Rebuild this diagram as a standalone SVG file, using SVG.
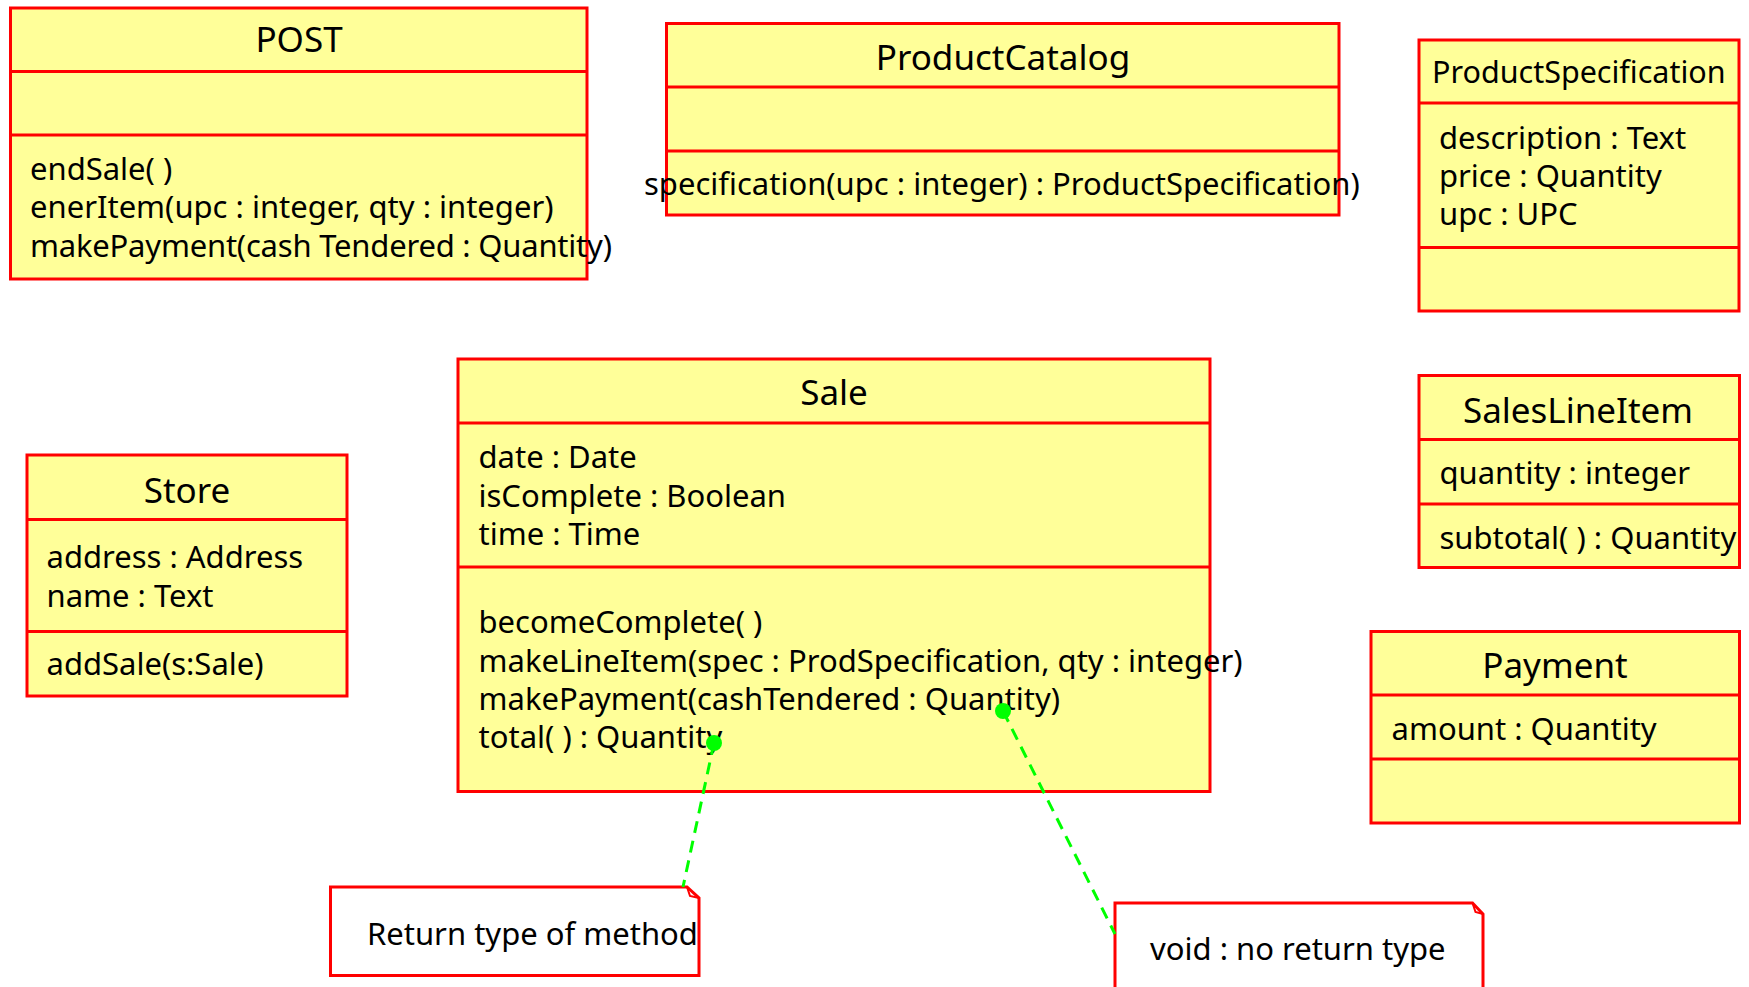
<svg xmlns="http://www.w3.org/2000/svg" width="1749" height="987" viewBox="0 0 1749 987">
<style>
.box{fill:#FFFF99;stroke:#FF0000;stroke-width:3}
.div{stroke:#FF0000;stroke-width:3;fill:none}
.note{fill:#FFFFFF;stroke:#FF0000;stroke-width:3}
.t{font-family:"Noto Sans","Open Sans",sans-serif;font-size:31px;fill:#000}
.h{font-family:"Noto Sans","Open Sans",sans-serif;font-size:35px;fill:#000;text-anchor:middle}
.link{stroke:#00FF00;stroke-width:3;stroke-dasharray:12 8;fill:none}
.dot{fill:#00FF00}
</style>
<rect width="1749" height="987" fill="#FFFFFF"/>

<g id="POST">
<rect class="box" x="10.5" y="8" width="576.5" height="271"/>
<line class="div" x1="10.5" y1="71.5" x2="587" y2="71.5"/>
<line class="div" x1="10.5" y1="135" x2="587" y2="135"/>
<text class="h" x="299" y="52">POST</text>
<text class="t" x="30" y="180">endSale( )</text>
<text class="t" x="30" y="218">enerItem(upc : integer, qty : integer)</text>
<text class="t" x="30" y="257" textLength="582" lengthAdjust="spacing">makePayment(cash Tendered : Quantity)</text>
</g>

<g id="ProductCatalog">
<rect class="box" x="666.5" y="23.5" width="672.5" height="191.5"/>
<line class="div" x1="666.5" y1="87" x2="1339" y2="87"/>
<line class="div" x1="666.5" y1="151" x2="1339" y2="151"/>
<text class="h" x="1003" y="70">ProductCatalog</text>
<text class="t" x="644" y="195">specification(upc : integer) : ProductSpecification)</text>
</g>

<g id="ProductSpecification">
<rect class="box" x="1419" y="40" width="320" height="271"/>
<line class="div" x1="1419" y1="103" x2="1739" y2="103"/>
<line class="div" x1="1419" y1="247.5" x2="1739" y2="247.5"/>
<text class="t" x="1432" y="83" style="font-size:30.5px">ProductSpecification</text>
<text class="t" x="1439" y="149">description : Text</text>
<text class="t" x="1439" y="187">price : Quantity</text>
<text class="t" x="1439" y="225">upc : UPC</text>
</g>

<g id="Store">
<rect class="box" x="27" y="455" width="320" height="241"/>
<line class="div" x1="27" y1="519.5" x2="347" y2="519.5"/>
<line class="div" x1="27" y1="631.5" x2="347" y2="631.5"/>
<text class="h" x="187" y="502.5">Store</text>
<text class="t" x="46.5" y="568">address : Address</text>
<text class="t" x="46.5" y="606.5">name : Text</text>
<text class="t" x="46.5" y="675">addSale(s:Sale)</text>
</g>

<g id="Sale">
<rect class="box" x="458" y="359" width="752" height="432.5"/>
<line class="div" x1="458" y1="423" x2="1210" y2="423"/>
<line class="div" x1="458" y1="567" x2="1210" y2="567"/>
<text class="h" x="834" y="405">Sale</text>
<text class="t" x="478.5" y="468">date : Date</text>
<text class="t" x="478.5" y="507">isComplete : Boolean</text>
<text class="t" x="478.5" y="545">time : Time</text>
<text class="t" x="478.5" y="633">becomeComplete( )</text>
<text class="t" x="478.5" y="671.5">makeLineItem(spec : ProdSpecification, qty : integer)</text>
<text class="t" x="478.5" y="710">makePayment(cashTendered : Quantity)</text>
<text class="t" x="478.5" y="748">total( ) : Quantity</text>
</g>

<g id="SalesLineItem">
<rect class="box" x="1419" y="375.5" width="320.5" height="192"/>
<line class="div" x1="1419" y1="439.5" x2="1739.5" y2="439.5"/>
<line class="div" x1="1419" y1="504" x2="1739.5" y2="504"/>
<text class="h" x="1578" y="422.5">SalesLineItem</text>
<text class="t" x="1439.5" y="483.5">quantity : integer</text>
<text class="t" x="1439.5" y="548.5">subtotal( ) : Quantity</text>
</g>

<g id="Payment">
<rect class="box" x="1371" y="631.5" width="368.5" height="191.5"/>
<line class="div" x1="1371" y1="695" x2="1739.5" y2="695"/>
<line class="div" x1="1371" y1="759" x2="1739.5" y2="759"/>
<text class="h" x="1555" y="677.5">Payment</text>
<text class="t" x="1391.5" y="740">amount : Quantity</text>
</g>

<g id="note1">
<path class="note" d="M330.5,887 L687,887 L699,898 L699,975.5 L330.5,975.5 Z"/>
<path class="div" d="M687,887 L690,896 L699,898" style="stroke-width:2"/>
<text class="t" x="367" y="945">Return type of method</text>
</g>

<g id="note2">
<path class="note" d="M1115,903 L1472.5,903 L1483,914 L1483,995 L1115,995 Z"/>
<path class="div" d="M1472.5,903 L1475.5,912 L1483,914" style="stroke-width:2"/>
<text class="t" x="1150" y="960">void : no return type</text>
</g>

<g id="connectors">
<line class="link" x1="714" y1="743" x2="683" y2="887"/>
<circle class="dot" cx="714" cy="743" r="8"/>
<line class="link" x1="1003" y1="711" x2="1115" y2="934"/>
<circle class="dot" cx="1003" cy="711" r="8"/>
</g>
</svg>
